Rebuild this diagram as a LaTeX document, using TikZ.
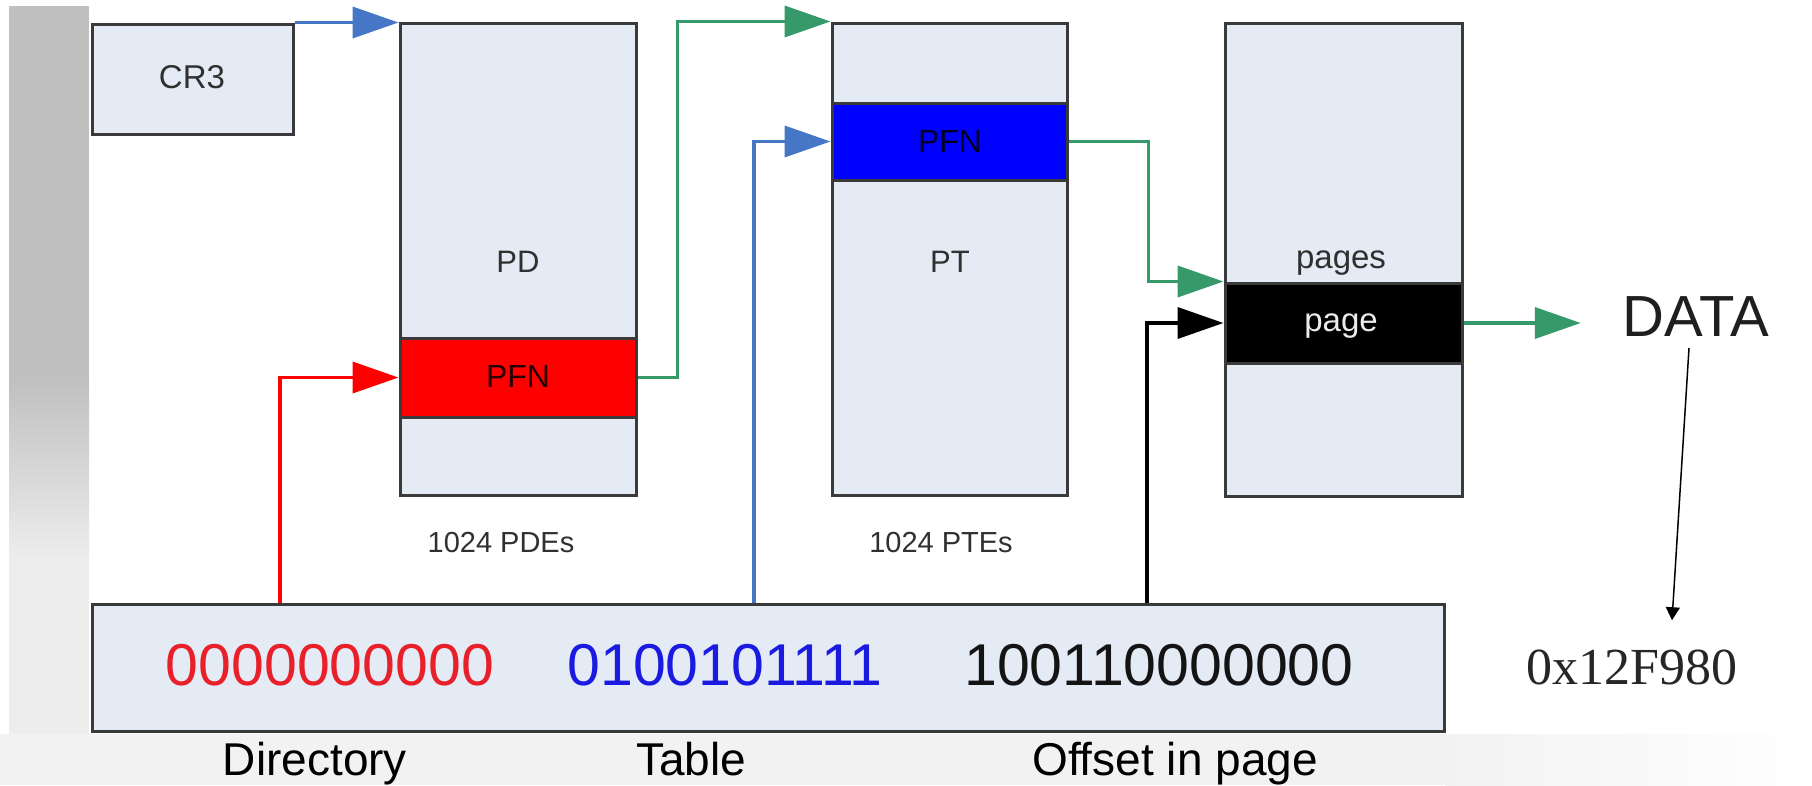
\documentclass[tikz,border=0pt]{standalone}
\usepackage{fontspec}
\setmainfont{Liberation Sans}
\newfontfamily\timesfont{Liberation Serif}
\usetikzlibrary{arrows.meta,calc}

\definecolor{boxfill}{HTML}{E5EBF5}
\definecolor{boxline}{HTML}{3A3A3A}
\definecolor{arrowblue}{HTML}{4677C6}
\definecolor{arrowgreen}{HTML}{35996A}
\definecolor{bitred}{HTML}{E8202A}
\definecolor{bitblue}{HTML}{1A1AE0}
\definecolor{sidegray}{HTML}{C0C0C0}
\definecolor{labelgray}{HTML}{303030}

\newcommand\setfs[1]{\fontsize{#1}{#1}\selectfont}

\tikzset{
  memcol/.style={rectangle, draw=boxline, line width=3pt, fill=boxfill, inner sep=0pt},
  band/.style={rectangle, draw=boxline, line width=3pt, inner sep=0pt},
  lbl/.style={inner sep=0pt, anchor=base, text=labelgray},
  conn/.style={line width=3.8pt, -{Triangle[length=46pt,width=31pt]}},
  pointer/.style={line width=1.5pt, -{Triangle[length=13pt,width=14pt]}},
}

\begin{document}
\begin{tikzpicture}[x=1pt,y=-1pt]
\useasboundingbox (0,0) rectangle (1812,785);
\fill[white] (0,0) rectangle (1812,785);

% slide decoration: side bar and bottom strip
\fill[sidegray] (9,6) rectangle (89,380);
\shade[top color=sidegray, bottom color=black!7] (9,380) rectangle (89,560);
\fill[black!7] (9,560) rectangle (89,734);
\fill[black!5] (0,734) rectangle (1445,785);
\shade[left color=black!5, right color=white] (1445,734) rectangle (1812,785);

% register and tables
\node[memcol, minimum width=201pt, minimum height=110pt] (cr3) at (193,79) {};
\node[memcol, minimum width=236pt, minimum height=472pt] (pd) at (518,259) {};
\node[band, fill=red, minimum width=236pt, minimum height=79pt] (pdpfn) at (518,377.5) {};
\node[memcol, minimum width=235pt, minimum height=472pt] (pt) at (949.5,259) {};
\node[band, fill=blue, minimum width=235pt, minimum height=77pt] (ptpfn) at (949.5,141.5) {};
\node[memcol, minimum width=237pt, minimum height=473pt] (pg) at (1343.5,259.5) {};
\node[band, fill=black, minimum width=237pt, minimum height=80pt] (pgpage) at (1343.5,323) {};

% linear address
\node[memcol, minimum width=1352pt, minimum height=127pt] (addr) at (768,667.5) {};

% labels
\node[lbl] (cr3txt) at (192,88) {\setfs{33}CR3};
\node[lbl] (pdtxt) at (518,272) {\setfs{31}PD};
\node[lbl] (pttxt) at (950,272) {\setfs{31}PT};
\node[lbl, text=black!85!red] (pdpfntxt) at (518,387) {\setfs{32}PFN};
\node[lbl, text=black!85!blue] (ptpfntxt) at (950,152) {\setfs{32}PFN};
\node[lbl] (pagestxt) at (1341,268) {\setfs{33}pages};
\node[lbl, text=black!8] (pagetxt) at (1341,331) {\setfs{33}page};
\node[lbl] (pdes) at (501,552) {\setfs{29}1024 PDEs};
\node[lbl] (ptes) at (941,552) {\setfs{29}1024 PTEs};
\node[lbl, text=black!88] (data) at (1696,336) {\setfs{58}DATA};
\node[lbl, text=black!85] (hex) at (1632,684) {\timesfont\setfs{52}0x12F980};

% address bits
\node[lbl, text=bitred] (dirbits) at (330,685) {\setfs{59}0000000000};
\node[lbl, text=bitblue] (tblbits) at (725,685) {\setfs{59}0100101111};
\node[lbl, text=black!92] (offbits) at (1159,685) {\setfs{59}100110000000};

\node[lbl, text=black] (dirname) at (315,775) {\setfs{46}Directory};
\node[lbl, text=black] (tblname) at (691,775) {\setfs{46}Table};
\node[lbl, text=black] (offname) at (1175,775) {\setfs{46}Offset in page};

% connector sources on the address box
\coordinate (dirsrc) at (280,0 |- addr.north);
\coordinate (tblsrc) at (754,0 |- addr.north);
\coordinate (offsrc) at (1147,0 |- addr.north);

% translation path
\draw[conn, arrowblue] (cr3.north east) -- (cr3.north east -| pd.west);
\draw[conn, red] (dirsrc) |- (pdpfn.west);
\draw[conn, arrowgreen] (pdpfn.east) -- ++(40,0) |- (pt.north west);
\draw[conn, arrowblue] (tblsrc) |- (ptpfn.west);
\draw[conn, arrowgreen] (ptpfn.east) -- ++(80,0) |- (pgpage.north west);
\draw[conn, black] (offsrc) |- (pgpage.west);
\draw[conn, arrowgreen] (pgpage.east) -- ([xshift=-42pt]pgpage.east -| data.west);
\draw[pointer] ($(data.base)+(-7,12)$) -- ($(hex.north)+(40,-29)$);
\end{tikzpicture}
\end{document}
